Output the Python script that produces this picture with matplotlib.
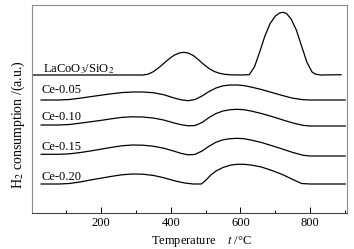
import matplotlib
matplotlib.use('Agg')
import matplotlib.pyplot as plt
import numpy as np

plt.rcParams['font.family'] = ['Liberation Serif', 'DejaVu Serif']
plt.rcParams['mathtext.fontset'] = 'stix'

# H2-TPR curves (temperature in C, signal in arbitrary units)
t_la = [6, 200, 320, 335, 350, 365, 380, 395, 410, 425, 437, 450, 465, 480, 495, 510, 525, 540, 555, 570,
        600, 625, 640, 655, 670, 685, 700, 712, 722, 732, 745, 760, 775, 790, 805, 815, 830, 888]
h_la = [138, 138, 138, 138.8, 141.2, 145, 149.5, 154, 157.8, 160, 160.7, 160, 157.5, 153.2, 148.5, 144.5,
        141.5, 139.7, 138.7, 138.2, 138, 138.3, 146, 161, 177, 189.5, 197, 200, 200.7, 199.5, 194, 183,
        167, 151, 141, 138.8, 138, 138.3]

t_ce = [29, 80, 110, 140, 170, 200, 230, 260, 290, 320, 350, 380, 410, 430, 450, 470, 490, 510, 530, 550,
        570, 590, 610, 630, 660, 690, 720, 750, 780, 800, 900]
h_05 = [113, 113, 113.5, 114.8, 116.3, 117.8, 119.2, 120.4, 121, 121, 120.3, 118.3, 115, 113.2, 112.3,
        113.5, 117, 121.5, 125, 127.2, 128, 128, 127.4, 126, 123.5, 120.5, 117.5, 114.8, 113.3, 113, 113]
h_10 = [88, 88, 88.5, 89.8, 91.2, 92.6, 94.2, 95.6, 96.2, 96, 95, 93, 90, 88.3, 87.2, 87.5, 90.5, 95.5,
        99.5, 102, 103.3, 103.7, 103.3, 102, 99.5, 96.5, 93.2, 90, 87.6, 87, 87]
h_15 = [58.7, 58.7, 59.2, 60.4, 62, 63.8, 65.6, 67.2, 68, 67.8, 66.8, 64.8, 61.8, 59.6, 58.2, 58.6, 62,
        66.8, 70.8, 73.2, 74.3, 74.7, 74.3, 73, 70.5, 67.3, 64, 60.5, 57.7, 57, 57]

t_20 = [29, 80, 110, 140, 170, 200, 230, 260, 290, 320, 350, 380, 410, 440, 465, 488, 500, 515, 530, 550,
        570, 590, 610, 630, 660, 690, 720, 750, 775, 800, 900]
h_20 = [29, 29, 29.5, 31, 33, 34.8, 36.6, 38.2, 39, 38.8, 37.6, 35.3, 32.3, 30, 29, 29, 32.5, 38, 42,
        45.5, 47.8, 48.7, 48.7, 48, 46, 42.5, 38.5, 33.5, 29.5, 29, 29]

names = ['LaCoO$_3$/SiO$_2$', 'Ce-0.05', 'Ce-0.10', 'Ce-0.15', 'Ce-0.20']
name_x = [34, 31, 31, 31, 31]
name_y = [141, 120, 93, 63, 33]

fig = plt.figure(figsize=(3.54, 2.49), dpi=100)
ax = fig.add_axes([31.7/354, 36/249, 315.6/354, 208/249])

for t, h in [(t_la, h_la), (t_ce, h_05), (t_ce, h_10), (t_ce, h_15), (t_20, h_20)]:
    ax.plot(t, h, color='black', lw=0.9)

for n, x, y in zip(names, name_x, name_y):
    ax.text(x, y, n, fontsize=9, ha='left', va='baseline')

ax.set_xlim(2, 906)
ax.set_ylim(0, 208)
ax.set_xticks([200, 400, 600, 800])
ax.set_xticks([100, 300, 500, 700, 900], minor=True)
ax.set_yticks([])
ax.tick_params(axis='x', which='major', direction='in', length=4, width=0.7, labelsize=9, pad=3)
ax.tick_params(axis='x', which='minor', direction='in', length=2, width=0.7)

for s in ['top', 'right', 'left']:
    ax.spines[s].set_color('#8a8a8a')
    ax.spines[s].set_linewidth(0.8)
ax.spines['bottom'].set_color('#444444')
ax.spines['bottom'].set_linewidth(0.8)

fig.text(202/354, 1 - 241/249, 'Temperature    $t$ /\u00b0C', fontsize=9, ha='center', va='center')
fig.text(18/354, 1 - 125/249, 'H$_2$ consumption /(a.u.)', fontsize=10, rotation=90,
         ha='center', va='center')

fig.savefig('out.png', dpi=100)
